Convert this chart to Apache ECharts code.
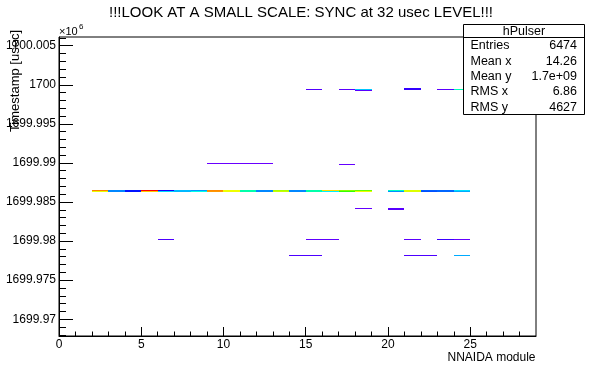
<!DOCTYPE html>
<html>
<head>
<meta charset="utf-8">
<script src="https://cdn.jsdelivr.net/npm/echarts@6/dist/echarts.min.js"></script>
<style>html,body{margin:0;padding:0;background:#fff;}#c{width:596px;height:374px;}</style>
</head>
<body>
<div id="c"></div>
<script>
// ---- data ----
const titleText = '!!!LOOK AT A SMALL SCALE: SYNC at 32 usec LEVEL!!!';
const xTitle = 'NNAIDA module';
const yTitle = 'Timestamp [usec]';
const xMin = 0, xMax = 29;
const yMin = 1699967860, yMax = 1700006110;
const yBinWidth = 128; // usec
const xMajorTicks = [0, 5, 10, 15, 20, 25];
const xTickLabels = ['0', '5', '10', '15', '20', '25'];
const xMinorTicks = [1,2,3,4,6,7,8,9,11,12,13,14,16,17,18,19,21,22,23,24,26,27,28];
const yMajorTicks = [1699970000,1699975000,1699980000,1699985000,1699990000,1699995000,1700000000,1700005000];
const yTickLabels = ['1699.97','1699.975','1699.98','1699.985','1699.99','1699.995','1700','1700.005'];
const yMinorTicks = [1699968000,1699969000,1699971000,1699972000,1699973000,1699974000,1699976000,1699977000,1699978000,1699979000,1699981000,1699982000,1699983000,1699984000,1699986000,1699987000,1699988000,1699989000,1699991000,1699992000,1699993000,1699994000,1699996000,1699997000,1699998000,1699999000,1700001000,1700002000,1700003000,1700004000,1700006000];

// main sync row: two adjacent y bins
const mainRowHi = 1699986410, mainRowLo = 1699986280;
const mainModules  = [2,3,4,5,6,7,8,9,10,11,12,13,14,15,16,17,18,20,21,22,23,24];
const mainHiCounts = [222,57,32,250,24,68,61,220,191,102,57,176,57,102,202,168,161,96,187,48,50,76];
const mainLoCounts = [190,57,32,206,75,68,88,217,191,102,57,182,57,102,80,150,191,59,187,45,50,65];

// off-sync bins: [module, y bin low edge (usec), counts]
const offBins = [
  [21,1699999460,17],
  [15,1699999330,10],[17,1699999330,8],[18,1699999330,71],[21,1699999330,17],[23,1699999330,8],[24,1699999330,99],
  [18,1699999200,9],
  [9,1699989860,5],[10,1699989860,5],[11,1699989860,5],[12,1699989860,5],
  [17,1699989730,6],
  [18,1699984110,6],[20,1699984110,9],
  [20,1699983980,9],
  [6,1699980140,11],[15,1699980140,7],[16,1699980140,7],[21,1699980140,8],[23,1699980140,15],[24,1699980140,6],
  [14,1699978090,11],[15,1699978090,11],[21,1699978090,11],[22,1699978090,11],[24,1699978090,65]
];

const statsName = 'hPulser';
const statsLabels = ['Entries', 'Mean x', 'Mean y', 'RMS x', 'RMS y'];
const statsValues = ['6474', '14.26', '1.7e+09', '6.86', '4627'];

const palette = ['#8000ff','#0000ff','#0080ff','#00ffff','#00ff80','#00ff00','#80ff00','#ffff00','#ff8000','#ff0000'];

// ---- build ----
const cells = [];
mainModules.forEach((m, i) => {
  cells.push([m, mainRowHi, mainHiCounts[i]]);
  cells.push([m, mainRowLo, mainLoCounts[i]]);
});
offBins.forEach(b => cells.push(b));

const FONT = 'Liberation Sans, Arial, Helvetica, sans-serif';
const chart = echarts.init(document.getElementById('c'), null, {renderer: 'canvas'});

const graphics = [
  {type:'text', z:100, style:{text:titleText, x:301, y:12.5, align:'center', verticalAlign:'middle', font:'15px ' + FONT, fill:'#000'}},
  {type:'text', z:100, style:{text:xTitle, x:535.5, y:357.5, align:'right', verticalAlign:'middle', font:'12px ' + FONT, fill:'#000'}},
  {type:'text', z:100, x:15.5, y:30, rotation:Math.PI/2, style:{text:yTitle, x:0, y:0, align:'right', verticalAlign:'middle', font:'13px ' + FONT, fill:'#000'}},
  {type:'text', z:100, style:{text:'\u00d710', x:59, y:31.5, align:'left', verticalAlign:'middle', font:'11px ' + FONT, fill:'#000'}},
  {type:'text', z:100, style:{text:'6', x:79, y:27, align:'left', verticalAlign:'middle', font:'8px ' + FONT, fill:'#000'}},
  {type:'rect', z:100, shape:{x:463.5, y:24.5, width:121, height:90}, style:{fill:'#fff', stroke:'#000', lineWidth:1}},
  {type:'line', z:101, shape:{x1:463.5, y1:37.5, x2:584.5, y2:37.5}, style:{stroke:'#000', lineWidth:1}},
  {type:'text', z:101, style:{text:statsName, x:524, y:31.5, align:'center', verticalAlign:'middle', font:'12.5px ' + FONT, fill:'#000'}}
];
statsLabels.forEach((l, i) => {
  const y = 46 + i * 15.3;
  graphics.push({type:'text', z:101, style:{text:l, x:470.5, y:y, align:'left', verticalAlign:'middle', font:'12.5px ' + FONT, fill:'#000'}});
  graphics.push({type:'text', z:101, style:{text:statsValues[i], x:577, y:y, align:'right', verticalAlign:'middle', font:'12.5px ' + FONT, fill:'#000'}});
});

const axisLineStyle = {show:true, lineStyle:{color:'#000', width:1}};
chart.setOption({
  animation: false,
  backgroundColor: '#fff',
  grid: {left:59, right:60, top:37, bottom:38, show:true, borderColor:'#000', borderWidth:1, backgroundColor:'transparent'},
  xAxis: [
    {type:'value', min:xMin, max:xMax, position:'bottom',
     axisLine:axisLineStyle,
     axisTick:{show:true, inside:true, length:9, customValues:xMajorTicks, lineStyle:{color:'#000'}},
     axisLabel:{show:true, customValues:xMajorTicks, margin:3, color:'#000', fontSize:12, fontFamily:FONT,
       formatter:(v) => xTickLabels[xMajorTicks.indexOf(v)]},
     splitLine:{show:false}},
    {type:'value', min:xMin, max:xMax, position:'bottom', offset:0,
     axisLine:{show:false},
     axisTick:{show:true, inside:true, length:4.5, customValues:xMinorTicks, lineStyle:{color:'#000'}},
     axisLabel:{show:false}, splitLine:{show:false}}
  ],
  yAxis: [
    {type:'value', min:yMin, max:yMax, position:'left',
     axisLine:axisLineStyle,
     axisTick:{show:true, inside:true, length:14, customValues:yMajorTicks, lineStyle:{color:'#000'}},
     axisLabel:{show:true, customValues:yMajorTicks, margin:3, color:'#000', fontSize:12, fontFamily:FONT,
       formatter:(v) => yTickLabels[yMajorTicks.indexOf(v)]},
     splitLine:{show:false}},
    {type:'value', min:yMin, max:yMax, position:'left', offset:0,
     axisLine:{show:false},
     axisTick:{show:true, inside:true, length:7, customValues:yMinorTicks, lineStyle:{color:'#000'}},
     axisLabel:{show:false}, splitLine:{show:false}}
  ],
  visualMap: {show:false, type:'continuous', min:0, max:250, dimension:2, seriesIndex:0, inRange:{color:palette}},
  series: [{
    type:'custom',
    xAxisIndex:0, yAxisIndex:0,
    data: cells,
    encode:{x:0, y:1},
    renderItem: function (params, api) {
      const x0 = api.value(0), y0 = api.value(1);
      const pA = api.coord([x0, y0 + yBinWidth]);
      const pB = api.coord([x0 + 1, y0]);
      const left = Math.round(pA[0]), right = Math.round(pB[0]);
      const top = Math.round(pA[1]), bottom = Math.round(pB[1]);
      return {type:'rect', shape:{x:left, y:top, width:right - left, height:Math.max(1, bottom - top)},
        style:{fill: api.visual('color')}};
    }
  }],
  graphic: graphics
});
</script>
</body>
</html>
